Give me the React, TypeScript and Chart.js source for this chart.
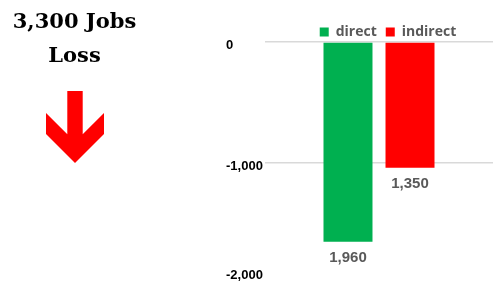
import React, { useEffect, useRef } from "react";
import { Chart, registerables } from "chart.js";
Chart.register(...registerables);

const categories = [""];
const seriesNames = ["direct", "indirect"];
const directValues = [-1650];
const indirectValues = [-1040];
const dataLabels = [1960, 1350];
const yTickValues = [0, -1000, -2000];
const headlineLines = ["3,300 Jobs", "Loss"];

export default function App() {
  const ref = useRef<HTMLCanvasElement>(null);
  useEffect(() => {
    if (!ref.current) return;
    const labelPlugin = {
      id: "customLabels",
      afterLayout(chart: any) {
        if (chart.legend) {
          chart.legend.left += 9;
          chart.legend.right += 9;
        }
      },
      afterDatasetsDraw(chart: any) {
        const ctx = chart.ctx;
        ctx.save();
        ctx.font = "bold 15px 'Liberation Sans', Arial, sans-serif";
        ctx.fillStyle = "#595959";
        ctx.textAlign = "center";
        ctx.textBaseline = "middle";
        chart.data.datasets.forEach((_ds: any, i: number) => {
          const el = chart.getDatasetMeta(i).data[0];
          ctx.fillText(dataLabels[i].toLocaleString("en-US"), el.x, el.y + 16);
        });
        const ys = chart.scales.y;
        ctx.font = "bold 13px 'Liberation Sans', Arial, sans-serif";
        ctx.fillStyle = "#000000";
        ctx.textAlign = "left";
        yTickValues.forEach((v) => {
          const py = Math.min(ys.getPixelForValue(v) + 3, chart.height - 9);
          ctx.fillText(v.toLocaleString("en-US"), chart.chartArea.left - 39, py);
        });
        ctx.restore();
      },
    };
    const chart = new Chart(ref.current, {
      type: "bar",
      data: {
        labels: categories,
        datasets: [
          {
            label: seriesNames[0],
            data: directValues,
            backgroundColor: "#00b050",
            categoryPercentage: 0.544,
            barPercentage: 0.79,
          },
          {
            label: seriesNames[1],
            data: indirectValues,
            backgroundColor: "#ff0000",
            categoryPercentage: 0.544,
            barPercentage: 0.79,
          },
        ],
      },
      options: {
        animation: false,
        responsive: true,
        maintainAspectRatio: false,
        layout: { padding: { left: 265, top: 16, right: 0, bottom: 0 } },
        plugins: {
          legend: {
            position: "top",
            maxHeight: 26,
            labels: {
              boxWidth: 9,
              boxHeight: 9,
              padding: 9,
              color: "#595959",
              font: { family: "'Open Sans', sans-serif", size: 14, weight: "bold" },
            },
          },
          tooltip: { enabled: false },
        },
        scales: {
          x: { display: false },
          y: {
            min: -2000,
            max: 0,
            ticks: { display: false, stepSize: 1000 },
            grid: {
              color: (c: any) => (c.tick && c.tick.value === -2000 ? "rgba(0,0,0,0)" : "#d9d9d9"),
              drawTicks: false,
              lineWidth: 1.5,
            },
            border: { display: false },
            afterFit: (s: any) => {
              s.width = 0;
            },
          },
        },
      },
      plugins: [labelPlugin],
    } as any);
    return () => chart.destroy();
  }, []);

  return (
    <div style={{ position: "fixed", left: 0, top: 0, width: 493, height: 284, overflow: "hidden", background: "#fff" }}>
      <div style={{ position: "absolute", left: 0, top: 0, width: 493, height: 284 }}>
        <canvas ref={ref} />
      </div>
      <div
        style={{
          position: "absolute",
          left: 0,
          top: 4,
          width: 149,
          textAlign: "center",
          fontFamily: "'DejaVu Serif', serif",
          fontWeight: "bold",
          fontSize: 21,
          lineHeight: "34px",
          color: "#000",
        }}
      >
        {headlineLines.map((t, i) => (
          <div key={i}>{t}</div>
        ))}
      </div>
      <svg style={{ position: "absolute", left: 0, top: 0 }} width={150} height={284}>
        <polygon
          points="67.3,91 82.7,91 82.7,134.3 104,113 104,134 75,163 46,134 46,113 67.3,134.3"
          fill="#ff0000"
        />
      </svg>
    </div>
  );
}
